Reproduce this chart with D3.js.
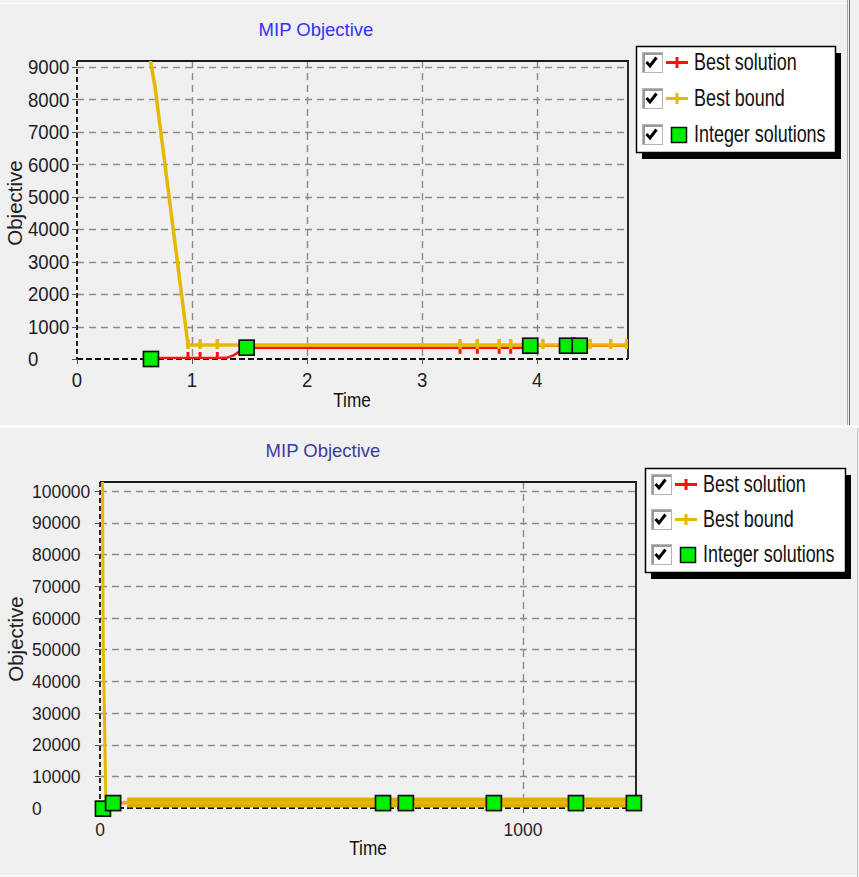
<!DOCTYPE html>
<html>
<head>
<meta charset="utf-8">
<script src="https://cdn.jsdelivr.net/npm/d3@7"></script>
<style>
body { margin: 0; background: #f0f0f0; }
text { font-family: "Liberation Sans", Arial, sans-serif; }
</style>
</head>
<body>
<script>
(function(){

//top run: axis ticks
var topTimeTicks = [0, 1, 2, 3, 4];
var topObjTicks = [0, 1000, 2000, 3000, 4000, 5000, 6000, 7000, 8000, 9000];

//top run: best bound
var topBoundTime = [0.627, 0.678, 0.965, 1.07, 1.22, 3.33, 3.48, 3.67, 3.77, 4.05, 4.46, 4.64, 4.78];
var topBoundValue = [9400, 8400, 432, 432, 432, 432, 432, 432, 432, 432, 432, 432, 432];
var topBoundMarkTime = [0.965, 1.07, 1.22, 3.33, 3.48, 3.67, 3.77, 4.05, 4.46, 4.64, 4.78];
var topBoundMarkValue = [432, 432, 432, 432, 432, 432, 432, 432, 432, 432, 432];

//top run: best solution
var topSolTime = [0.643, 0.965, 1.07, 1.22, 1.30, 1.36, 1.42, 1.475, 3.94, 3.94, 4.78];
var topSolValue = [30, 30, 30, 30, 35, 110, 250, 345, 345, 410, 410];
var topSolMarkTime = [0.965, 1.07, 1.22, 3.33, 3.48, 3.67, 3.77];
var topSolMarkValue = [30, 30, 30, 345, 345, 345, 345];

//top run: integer solutions
var topIntTime = [0.643, 1.475, 3.94, 4.26, 4.37];
var topIntValue = [0, 350, 410, 410, 410];

//bottom run: axis ticks
var botTimeTicks = [0, 1000];
var botObjTicks = [0, 10000, 20000, 30000, 40000, 50000, 60000, 70000, 80000, 90000, 100000];

//bottom run: best bound (the dense markers merge into a band)
var botBoundTime = [6, 7.5, 14, 64, 1267];
var botBoundValue = [103500, 52000, 2000, 1750, 1750];
var botBandTime = [64, 1267];
var botBandValue = [1750, 1750];

//bottom run: best solution
var botSolTime = [7, 31, 669, 723, 931, 1125, 1262];
var botSolValue = [0, 1550, 1550, 1550, 1550, 1550, 1550];

//bottom run: integer solutions
var botIntTime = [7, 31, 669, 723, 931, 1125, 1262];
var botIntValue = [-200, 1550, 1550, 1550, 1550, 1550, 1550];

//legend
var legendLabels = ["Best solution", "Best bound", "Integer solutions"];
var legendKinds = ["line", "line", "square"];

var red = "#ff1010",
    gold = "#e6b800",
    green = "#00ee00";

var svg = d3.select("body")
    .append("svg")
    .attr("width", 859)
    .attr("height", 877);

svg.append("rect")
    .attr("width", 859)
    .attr("height", 877)
    .attr("fill", "#f0f0f0");

//window frame lines
svg.append("line").attr("x1", 0).attr("x2", 847).attr("y1", 3.5).attr("y2", 3.5)
    .attr("stroke", "#fbfbfb").attr("stroke-width", 1.5);
svg.append("line").attr("x1", 0).attr("x2", 859).attr("y1", 426.5).attr("y2", 426.5)
    .attr("stroke", "#ffffff").attr("stroke-width", 2);
svg.append("line").attr("x1", 847.5).attr("x2", 847.5).attr("y1", 0).attr("y2", 425)
    .attr("stroke", "#a8a8a8");
svg.append("line").attr("x1", 849.5).attr("x2", 849.5).attr("y1", 0).attr("y2", 425)
    .attr("stroke", "#6e6e6e");
svg.append("line").attr("x1", 857.5).attr("x2", 857.5).attr("y1", 428).attr("y2", 877)
    .attr("stroke", "#c4c4c4");
svg.append("line").attr("x1", 0).attr("x2", 857).attr("y1", 875.5).attr("y2", 875.5)
    .attr("stroke", "#fbfbfb");

//top chart
drawPanel({
    id: "top",
    left: 77, right: 628, top: 61, bottom: 359,
    xDomain: [0, 4.79], yDomain: [0, 9185],
    xTicks: topTimeTicks, yTicks: topObjTicks,
    tickSize: 20, tickScale: 0.93, yLabelX: 28, xLabelY: 387,
    title: {x: 316, y: 36, color: "#3232f2"},
    xTitle: {x: 352, y: 407},
    yTitle: {x: 22, y: 203},
    bound: [topBoundTime, topBoundValue], boundWidth: 3.5,
    boundMarks: [topBoundMarkTime, topBoundMarkValue],
    sol: [topSolTime, topSolValue],
    solMarks: [topSolMarkTime, topSolMarkValue],
    ints: [topIntTime, topIntValue],
    legend: {x: 636, y: 46, w: 199, h: 106, row: 36}
});

//bottom chart
drawPanel({
    id: "bot",
    left: 100, right: 636, top: 482, bottom: 808,
    xDomain: [0, 1267], yDomain: [0, 102800],
    xTicks: botTimeTicks, yTicks: botObjTicks,
    tickSize: 19, tickScale: 0.92, yLabelX: 32, xLabelY: 836,
    title: {x: 323, y: 457, color: "#3b3b9e"},
    xTitle: {x: 368, y: 855},
    yTitle: {x: 23, y: 639},
    bound: [botBoundTime, botBoundValue], boundWidth: 3,
    band: [botBandTime, botBandValue],
    sol: [botSolTime, botSolValue],
    ints: [botIntTime, botIntValue],
    legend: {x: 645, y: 468, w: 200, h: 104, row: 35}
});

function toPoints(pair){
    return pair[0].map(function(t, i){ return [t, pair[1][i]]; });
};

function drawPanel(cfg){
    var x = d3.scaleLinear().domain(cfg.xDomain).range([cfg.left, cfg.right]);
    var y = d3.scaleLinear().domain(cfg.yDomain).range([cfg.bottom, cfg.top]);

    var g = svg.append("g").attr("class", "panel " + cfg.id);

    g.append("clipPath")
        .attr("id", "clip-" + cfg.id)
        .append("rect")
        .attr("x", cfg.left)
        .attr("y", cfg.top)
        .attr("width", cfg.right - cfg.left)
        .attr("height", cfg.bottom - cfg.top);

    //chart title
    g.append("text")
        .attr("x", cfg.title.x)
        .attr("y", cfg.title.y)
        .attr("text-anchor", "middle")
        .attr("fill", cfg.title.color)
        .style("font-size", "18.5px")
        .text("MIP Objective");

    //dashed grid
    g.selectAll(".hgrid")
        .data(cfg.yTicks.filter(function(d){ return d > 0; }))
        .enter()
        .append("line")
        .attr("x1", cfg.left).attr("x2", cfg.right)
        .attr("y1", function(d){ return Math.round(y(d)) + 0.5; })
        .attr("y2", function(d){ return Math.round(y(d)) + 0.5; })
        .attr("stroke", "#8c8c8c")
        .attr("stroke-width", 1.4)
        .attr("stroke-dasharray", "7,5");

    g.selectAll(".vgrid")
        .data(cfg.xTicks.filter(function(d){ return d > 0; }))
        .enter()
        .append("line")
        .attr("y1", cfg.top).attr("y2", cfg.bottom)
        .attr("x1", function(d){ return Math.round(x(d)) + 0.5; })
        .attr("x2", function(d){ return Math.round(x(d)) + 0.5; })
        .attr("stroke", "#8c8c8c")
        .attr("stroke-width", 1.4)
        .attr("stroke-dasharray", "7,5");

    //frame: solid top and right, dashed axes
    g.append("line").attr("x1", cfg.left).attr("x2", cfg.right + 1)
        .attr("y1", cfg.top).attr("y2", cfg.top)
        .attr("stroke", "#1a1a1a").attr("stroke-width", 2);
    g.append("line").attr("x1", cfg.right).attr("x2", cfg.right)
        .attr("y1", cfg.top).attr("y2", cfg.bottom)
        .attr("stroke", "#2a2a2a").attr("stroke-width", 2);
    g.append("line").attr("x1", cfg.left).attr("x2", cfg.right)
        .attr("y1", cfg.bottom).attr("y2", cfg.bottom)
        .attr("stroke", "#111").attr("stroke-width", 1.8)
        .attr("stroke-dasharray", "6,3");
    g.append("line").attr("x1", cfg.left).attr("x2", cfg.left)
        .attr("y1", cfg.top).attr("y2", cfg.bottom)
        .attr("stroke", "#111").attr("stroke-width", 1.8)
        .attr("stroke-dasharray", "5,3");

    //tick marks
    g.selectAll(".ytick")
        .data(cfg.yTicks)
        .enter()
        .append("line")
        .attr("x1", cfg.left - 5).attr("x2", cfg.left)
        .attr("y1", function(d){ return Math.round(y(d)) + 0.5; })
        .attr("y2", function(d){ return Math.round(y(d)) + 0.5; })
        .attr("stroke", "#555");
    g.selectAll(".xtick")
        .data(cfg.xTicks)
        .enter()
        .append("line")
        .attr("y1", cfg.bottom).attr("y2", cfg.bottom + 5)
        .attr("x1", function(d){ return Math.round(x(d)) + 0.5; })
        .attr("x2", function(d){ return Math.round(x(d)) + 0.5; })
        .attr("stroke", "#555");

    //tick labels (slightly narrow face)
    g.selectAll(".ylabel")
        .data(cfg.yTicks)
        .enter()
        .append("text")
        .attr("transform", function(d){
            return "translate(" + cfg.yLabelX + "," + y(d) + ") scale(" + cfg.tickScale + ",1)";
        })
        .attr("dy", "0.36em")
        .attr("fill", "#1e1e28")
        .style("font-size", cfg.tickSize + "px")
        .text(function(d){ return d; });

    g.selectAll(".xlabel")
        .data(cfg.xTicks)
        .enter()
        .append("text")
        .attr("transform", function(d){
            return "translate(" + x(d) + "," + cfg.xLabelY + ") scale(" + cfg.tickScale + ",1)";
        })
        .attr("text-anchor", "middle")
        .attr("fill", "#1e1e28")
        .style("font-size", cfg.tickSize + "px")
        .text(function(d){ return d; });

    //axis titles
    g.append("text")
        .attr("transform", "translate(" + cfg.xTitle.x + "," + cfg.xTitle.y + ") scale(0.82,1)")
        .attr("text-anchor", "middle")
        .attr("fill", "#111")
        .style("font-size", "21px")
        .text("Time");
    g.append("text")
        .attr("transform", "translate(" + cfg.yTitle.x + "," + cfg.yTitle.y + ") rotate(-90)")
        .attr("text-anchor", "middle")
        .attr("fill", "#222")
        .style("font-size", "20.5px")
        .text("Objective");

    var line = d3.line()
        .x(function(d){ return x(d[0]); })
        .y(function(d){ return y(d[1]); });

    var plot = g.append("g").attr("clip-path", "url(#clip-" + cfg.id + ")");

    //best solution
    plot.append("path")
        .datum(toPoints(cfg.sol))
        .attr("d", line)
        .attr("fill", "none")
        .attr("stroke", red)
        .attr("stroke-width", 2.5);

    if (cfg.solMarks) {
        plot.selectAll(".solmark")
            .data(toPoints(cfg.solMarks))
            .enter()
            .append("line")
            .attr("x1", function(d){ return x(d[0]); })
            .attr("x2", function(d){ return x(d[0]); })
            .attr("y1", function(d){ return y(d[1]) - 6; })
            .attr("y2", function(d){ return y(d[1]) + 6; })
            .attr("stroke", red)
            .attr("stroke-width", 3);
    }

    //best bound
    if (cfg.band) {
        plot.append("path")
            .datum(toPoints(cfg.band))
            .attr("d", line)
            .attr("fill", "none")
            .attr("stroke", "#ddae00")
            .attr("stroke-width", 10);
    }

    plot.append("path")
        .datum(toPoints(cfg.bound))
        .attr("d", line)
        .attr("fill", "none")
        .attr("stroke", gold)
        .attr("stroke-width", cfg.boundWidth)
        .attr("stroke-linejoin", "round");

    if (cfg.boundMarks) {
        plot.selectAll(".boundmark")
            .data(toPoints(cfg.boundMarks))
            .enter()
            .append("line")
            .attr("x1", function(d){ return x(d[0]); })
            .attr("x2", function(d){ return x(d[0]); })
            .attr("y1", function(d){ return y(d[1]) - 6; })
            .attr("y2", function(d){ return y(d[1]) + 4; })
            .attr("stroke", gold)
            .attr("stroke-width", 3.5);
    }

    //integer solutions
    g.selectAll(".intsol")
        .data(toPoints(cfg.ints))
        .enter()
        .append("rect")
        .attr("x", function(d){ return x(d[0]) - 7.5; })
        .attr("y", function(d){ return y(d[1]) - 7.5; })
        .attr("width", 15)
        .attr("height", 15)
        .attr("fill", green)
        .attr("stroke", "#111")
        .attr("stroke-width", 1.7);

    drawLegend(cfg.legend);
};

function drawLegend(lg){
    var g = svg.append("g")
        .attr("transform", "translate(" + lg.x + "," + lg.y + ")");

    g.append("rect")
        .attr("x", 6).attr("y", 7)
        .attr("width", lg.w).attr("height", lg.h)
        .attr("fill", "#000");
    g.append("rect")
        .attr("x", 0.5).attr("y", 0.5)
        .attr("width", lg.w).attr("height", lg.h)
        .attr("fill", "#fff")
        .attr("stroke", "#000")
        .attr("stroke-width", 1.5);

    var rows = g.selectAll(".legendRow")
        .data(legendLabels)
        .enter()
        .append("g")
        .attr("transform", function(d, i){ return "translate(0," + (6 + i * lg.row) + ")"; });

    //checkbox
    rows.append("rect")
        .attr("x", 6.5).attr("y", 0.5)
        .attr("width", 20).attr("height", 20)
        .attr("fill", "#fff")
        .attr("stroke", "#b4b4b4");
    rows.append("path")
        .attr("d", "M8,20 V2 H26")
        .attr("fill", "none")
        .attr("stroke", "#7a7a7a")
        .attr("stroke-width", 1.5);
    rows.append("path")
        .attr("d", "M10.5,10 L14,14 L20.5,5.5")
        .attr("fill", "none")
        .attr("stroke", "#000")
        .attr("stroke-width", 3);

    //series symbol
    rows.each(function(d, i){
        var row = d3.select(this);
        if (legendKinds[i] == "line") {
            var c = i == 0 ? red : gold;
            row.append("line")
                .attr("x1", 30).attr("x2", 52)
                .attr("y1", 10.5).attr("y2", 10.5)
                .attr("stroke", c).attr("stroke-width", 3);
            row.append("line")
                .attr("x1", 41).attr("x2", 41)
                .attr("y1", 5).attr("y2", 16)
                .attr("stroke", c).attr("stroke-width", 3);
        } else {
            row.append("rect")
                .attr("x", 35.5).attr("y", 3.5)
                .attr("width", 15).attr("height", 15)
                .attr("fill", green)
                .attr("stroke", "#111")
                .attr("stroke-width", 1.5);
        }
    });

    rows.append("text")
        .attr("transform", "translate(58,18) scale(0.78,1)")
        .attr("fill", "#111")
        .style("font-size", "23px")
        .text(function(d){ return d; });
};

})();
</script>
</body>
</html>
